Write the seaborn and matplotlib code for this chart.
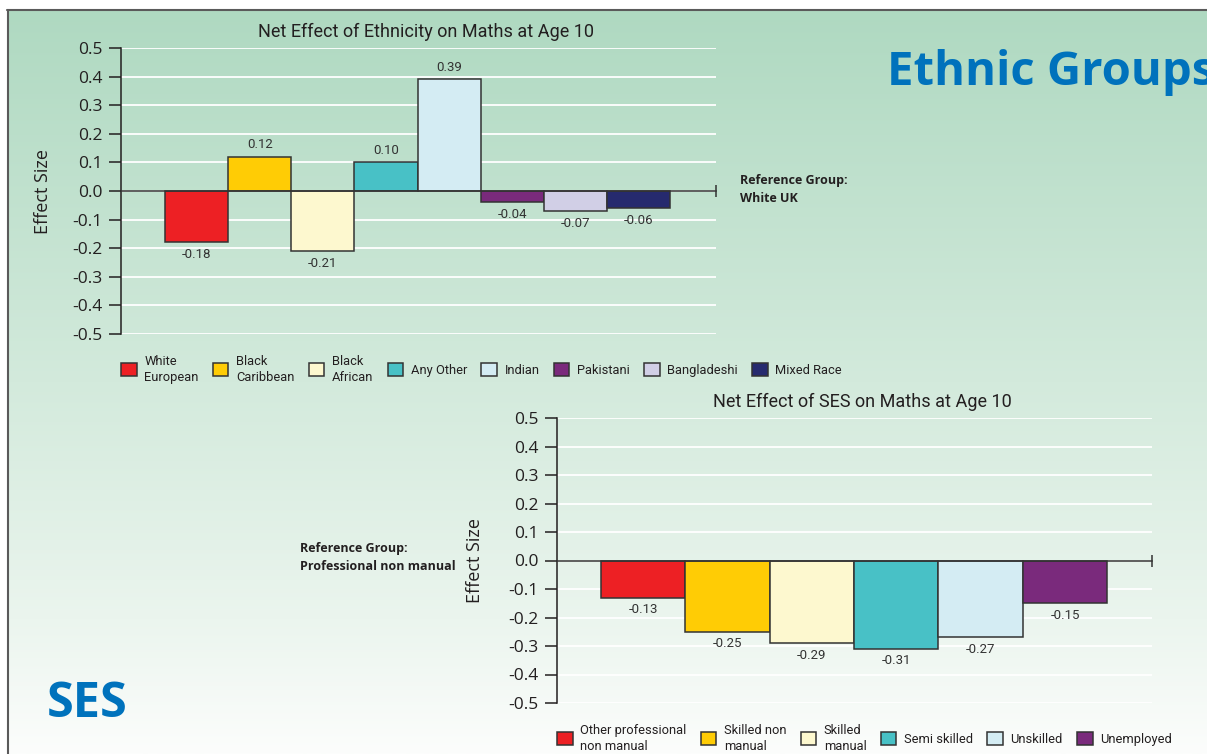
import numpy as np
import seaborn as sns
import matplotlib.pyplot as plt
from matplotlib.patches import Patch
from matplotlib.lines import Line2D
from matplotlib.colors import LinearSegmentedColormap

# Data
eth_groups = ['White European', 'Black Caribbean', 'Black African', 'Any Other',
              'Indian', 'Pakistani', 'Bangladeshi', 'Mixed Race']
eth_labels = ['White\nEuropean', 'Black\nCaribbean', 'Black\nAfrican', 'Any Other',
              'Indian', 'Pakistani', 'Bangladeshi', 'Mixed Race']
eth_effect = [-0.18, 0.12, -0.21, 0.10, 0.39, -0.04, -0.07, -0.06]
eth_colors = ['#ed2024', '#ffcc05', '#fdf8cf', '#48c1c6',
              '#d4ecf3', '#7a2a7c', '#d1cfe6', '#262a6e']

ses_groups = ['Other professional non manual', 'Skilled non manual', 'Skilled manual',
              'Semi skilled', 'Unskilled', 'Unemployed']
ses_labels = ['Other professional\nnon manual', 'Skilled non\nmanual', 'Skilled\nmanual',
              'Semi skilled', 'Unskilled', 'Unemployed']
ses_effect = [-0.13, -0.25, -0.29, -0.31, -0.27, -0.15]
ses_colors = ['#ed2024', '#ffcc05', '#fdf8cf', '#48c1c6', '#d4ecf3', '#7a2a7c']

y_ticks = [0.5, 0.4, 0.3, 0.2, 0.1, 0.0, -0.1, -0.2, -0.3, -0.4, -0.5]

sns.set_style("white")
plt.rcParams['font.family'] = ['Open Sans', 'DejaVu Sans']
plt.rcParams['axes.unicode_minus'] = False

# no condensed face is installed, Roboto is the narrowest close match
NARROW = ['Roboto', 'DejaVu Sans']
DARK = '#231f20'
BLUE = '#0072bc'

W, H = 1207, 754
fig = plt.figure(figsize=(W / 100, H / 100), dpi=100, facecolor='white')

# background panel with vertical green-to-white gradient
bg = fig.add_axes([8 / W, 0, 1 - 8 / W, 1 - 10 / H], zorder=0)
cmap = LinearSegmentedColormap.from_list(
    'panel', [(0.0, '#afd9c1'), (0.5, '#d3eadc'), (0.82, '#ebf5ee'), (1.0, '#fcfdfc')])
bg.imshow(np.linspace(0, 1, 256).reshape(-1, 1), aspect='auto', cmap=cmap,
          extent=[0, 1, 0, 1], origin='upper')
bg.axis('off')
fig.add_artist(Line2D([7 / W, 1], [1 - 10 / H, 1 - 10 / H], color='#5a5a5a', lw=1.5))
fig.add_artist(Line2D([8 / W, 8 / W], [0, 1 - 10 / H], color='#5a5a5a', lw=1.5))


def draw_panel(ax, groups, labels, values, colors, title, xlim, label_x):
    sns.barplot(x=groups, y=values, hue=groups, palette=colors, saturation=1,
                width=1.0, edgecolor='#333333', linewidth=1.1, legend=False, ax=ax)
    ax.set_facecolor('none')
    ax.set_xlim(*xlim)
    ax.set_ylim(-0.5, 0.5)
    ax.set_yticks(y_ticks)
    ax.set_yticklabels([f'{t:.1f}' for t in y_ticks], fontsize=12.5, color=DARK)
    ax.tick_params(axis='y', direction='out', length=9, width=1.1, color=DARK, pad=4, left=True)
    ax.tick_params(axis='x', bottom=False, labelbottom=False)
    ax.yaxis.grid(True, color='white', lw=1.3)
    ax.set_axisbelow(True)
    for s in ['top', 'right']:
        ax.spines[s].set_visible(False)
    ax.spines['left'].set_color(DARK)
    ax.spines['left'].set_linewidth(1.1)
    ax.spines['bottom'].set_position(('data', 0))
    ax.spines['bottom'].set_color('#333333')
    ax.spines['bottom'].set_linewidth(1.1)
    ax.plot(1, 0, marker='|', ms=9, mew=1.1, color='#333333',
            transform=ax.get_yaxis_transform(), clip_on=False)

    for cont in ax.containers:
        ax.bar_label(cont, fmt='%.2f', padding=4, fontsize=9.5, color='#333333', family=NARROW)

    ax.set_title(title, fontsize=13, family=NARROW, color=DARK, pad=8, x=0.513)
    ax.set_xlabel('')
    ax.set_ylabel('Effect Size', fontsize=13, color=DARK)
    ax.yaxis.set_label_coords(label_x, 0.5)

    handles = [Patch(facecolor=c, edgecolor='#333333', lw=1.1) for c in colors]
    leg = ax.legend(handles, labels, ncol=len(labels), loc='upper left',
                    bbox_to_anchor=(0.0, -0.072), frameon=False, borderpad=0, borderaxespad=0,
                    handlelength=1.2, handleheight=1.2, handletextpad=0.6, columnspacing=1.1,
                    labelspacing=0.3, prop={'family': NARROW, 'size': 9.3})
    for t in leg.get_texts():
        t.set_multialignment('left')
        t.set_color(DARK)
        t.set_linespacing(1.3)


ax1 = fig.add_axes([121 / W, 1 - 334 / H, 595 / W, 286 / H], zorder=2)
draw_panel(ax1, eth_groups, eth_labels, eth_effect, eth_colors,
           'Net Effect of Ethnicity on Maths at Age 10', (-1.2, 8.23), -0.116)

ax2 = fig.add_axes([557 / W, 1 - 703 / H, 595 / W, 285 / H], zorder=2)
draw_panel(ax2, ses_groups, ses_labels, ses_effect, ses_colors,
           'Net Effect of SES on Maths at Age 10', (-1.02, 6.03), -0.123)

# headings and notes
fig.text(887 / W, 1 - 85 / H, 'Ethnic Groups', fontsize=34, fontweight='bold',
         color=BLUE, va='baseline', ha='left')
fig.text(47 / W, 1 - 717 / H, 'SES', fontsize=35, fontweight='bold',
         color=BLUE, va='baseline', ha='left')
fig.text(740 / W, 1 - 174 / H, 'Reference Group:\nWhite UK', fontsize=9,
         fontweight='bold', color=DARK, va='top', ha='left', linespacing=1.5)
fig.text(300 / W, 1 - 542 / H, 'Reference Group:\nProfessional non manual', fontsize=9,
         fontweight='bold', color=DARK, va='top', ha='left', linespacing=1.5)

fig.savefig('out.png', dpi=100, facecolor='white')
